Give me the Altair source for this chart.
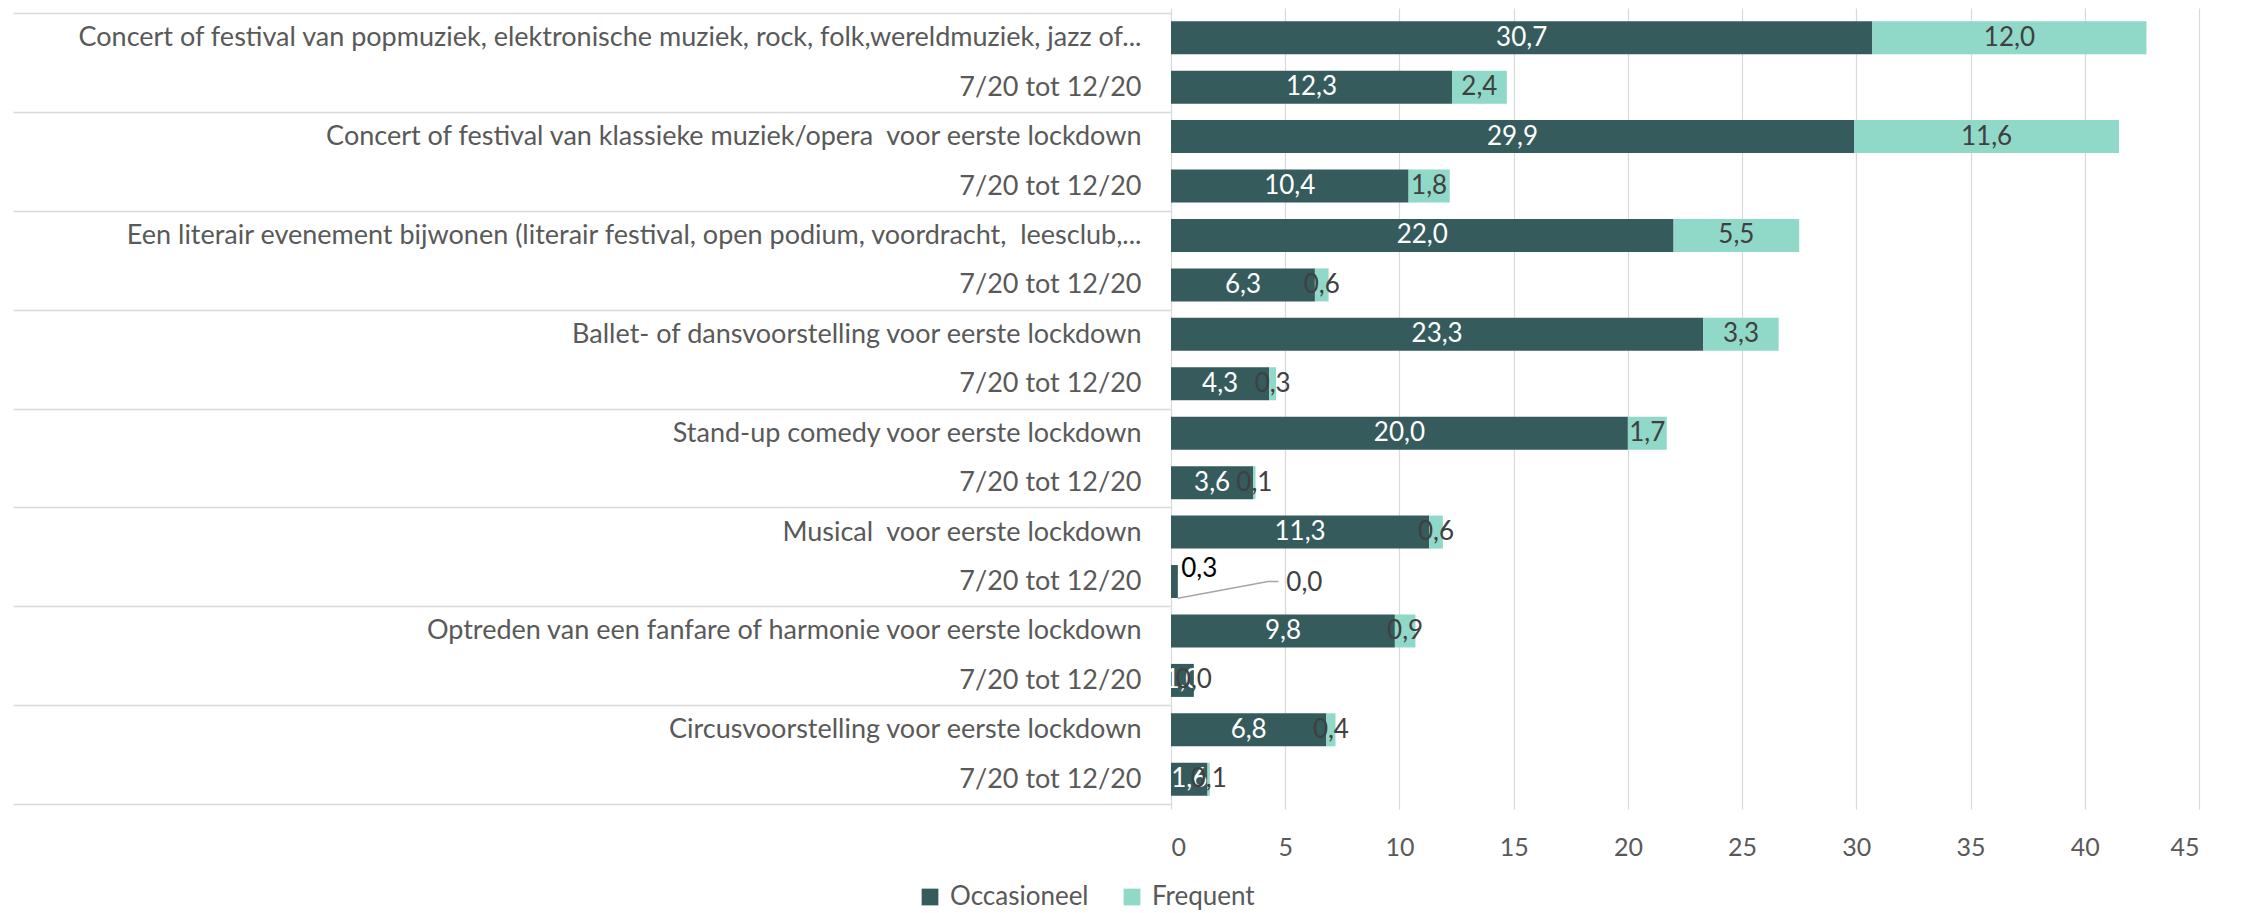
import json
import altair as alt
import pandas as pd

labels = [
    "Concert of festival van popmuziek, elektronische muziek, rock, folk,wereldmuziek, jazz of...",
    "7/20 tot 12/20",
    "Concert of festival van klassieke muziek/opera  voor eerste lockdown",
    "7/20 tot 12/20",
    "Een literair evenement bijwonen (literair festival, open podium, voordracht,  leesclub,...",
    "7/20 tot 12/20",
    "Ballet- of dansvoorstelling voor eerste lockdown",
    "7/20 tot 12/20",
    "Stand-up comedy voor eerste lockdown",
    "7/20 tot 12/20",
    "Musical  voor eerste lockdown",
    "7/20 tot 12/20",
    "Optreden van een fanfare of harmonie voor eerste lockdown",
    "7/20 tot 12/20",
    "Circusvoorstelling voor eerste lockdown",
    "7/20 tot 12/20",
]
occasioneel = [30.7, 12.3, 29.9, 10.4, 22.0, 6.3, 23.3, 4.3, 20.0, 3.6, 11.3, 0.3, 9.8, 1.0, 6.8, 1.6]
frequent = [12.0, 2.4, 11.6, 1.8, 5.5, 0.6, 3.3, 0.3, 1.7, 0.1, 0.6, 0.0, 0.9, 0.0, 0.4, 0.1]
series = ["Occasioneel", "Frequent"]
colors = ["#365B5D", "#90D8C8"]
x_ticks = [0, 5, 10, 15, 20, 25, 30, 35, 40, 45]

# row whose labels are placed outside the bar with a leader line (Musical 7/20)
special_row = 11
# leader line for that row, in data units
leader_x = [0.3, 4.25, 4.7]
leader_dy = [0.34, 0.0, 0.0]

FONT = "Lato"
GREY = "#595959"

rows = list(range(len(labels)))
boundaries = [r - 0.5 for r in range(0, len(labels) + 1, 2)]


def fmt(v):
    return f"{v:.1f}".replace(".", ",")


recs = []
for i in rows:
    o, f = occasioneel[i], frequent[i]
    recs.append(dict(row=i, serie=series[0], start=0.0, end=o, mid=o / 2, txt=fmt(o)))
    recs.append(dict(row=i, serie=series[1], start=o, end=o + f, mid=o + f / 2, txt=fmt(f)))
bars_df = pd.DataFrame(recs)
lab_df = bars_df[bars_df.row != special_row]

y_scale = alt.Scale(domain=[-0.5, 15.5], reverse=True, nice=False, zero=False)
x_scale = alt.Scale(domain=[0, 45], nice=False)

# keep double spaces visible in SVG
shown_labels = [s.replace("  ", " \u00a0") for s in labels]
label_expr = json.dumps(shown_labels) + "[datum.value]"

bars = alt.Chart(bars_df).mark_bar(size=33).encode(
    x=alt.X("start:Q", scale=x_scale, title=None,
            axis=alt.Axis(values=x_ticks, grid=True, gridColor="#d9d9d9", gridWidth=1.2,
                          domain=False, ticks=False, tickSize=0, labelFont=FONT,
                          labelFontSize=25, labelColor=GREY, labelPadding=26)),
    x2="end:Q",
    y=alt.Y("row:Q", scale=y_scale, title=None,
            axis=alt.Axis(orient="left", values=rows, labelExpr=label_expr, grid=False,
                          domain=False, ticks=False, tickSize=0, labelFont=FONT,
                          labelFontSize=27, labelColor=GREY, labelLimit=1500,
                          labelPadding=30)),
    color=alt.Color("serie:N", scale=alt.Scale(domain=series, range=colors),
                    legend=alt.Legend(title=None, orient="none", direction="horizontal",
                                      legendX=-254, legendY=876, symbolType="square",
                                      symbolSize=280, symbolStrokeWidth=0,
                                      labelFont=FONT, labelFontSize=26, labelColor=GREY,
                                      labelOffset=7, columnPadding=30)),
)

seps = alt.Chart(pd.DataFrame({"b": boundaries})).mark_rule(opacity=0).encode(
    y=alt.Y("b:Q", scale=y_scale, title=None,
            axis=alt.Axis(orient="left", values=boundaries, labels=False, domain=False,
                          grid=False, ticks=True, tickSize=1158, tickColor="#d9d9d9",
                          tickWidth=1.5)),
)

text_dark = alt.Chart(lab_df[lab_df.serie == series[0]]).mark_text(
    font=FONT, fontSize=26, color="white", baseline="middle", align="center"
).encode(x=alt.X("mid:Q", scale=x_scale), y=alt.Y("row:Q", scale=y_scale, axis=None),
         text="txt:N")

text_light = alt.Chart(lab_df[lab_df.serie == series[1]]).mark_text(
    font=FONT, fontSize=26, color="#404040", baseline="middle", align="center"
).encode(x=alt.X("mid:Q", scale=x_scale), y=alt.Y("row:Q", scale=y_scale, axis=None),
         text="txt:N")

leader_df = pd.DataFrame({
    "x": leader_x,
    "y": [special_row + d for d in leader_dy],
    "o": list(range(len(leader_x))),
})
leader = alt.Chart(leader_df).mark_line(color="#a6a6a6", strokeWidth=1.5).encode(
    x=alt.X("x:Q", scale=x_scale), y=alt.Y("y:Q", scale=y_scale, axis=None), order="o:Q"
)

out_df = pd.DataFrame({
    "x": [occasioneel[special_row] + 0.15, leader_x[-1] + 0.35],
    "y": [special_row - 0.26, special_row + 0.02],
    "txt": [fmt(occasioneel[special_row]), fmt(frequent[special_row])],
    "c": ["#000000", "#404040"],
})
out_text = alt.Chart(out_df).mark_text(
    font=FONT, fontSize=26, baseline="middle", align="left"
).encode(x=alt.X("x:Q", scale=x_scale), y=alt.Y("y:Q", scale=y_scale, axis=None),
         text="txt:N", color=alt.Color("c:N", scale=None))

chart = alt.layer(bars, seps, text_dark, text_light, leader, out_text).resolve_axis(
    y="independent"
).properties(
    width=1028, height=801,
    autosize=alt.AutoSizeParams(type="none"),
    padding={"left": 1163, "top": 0, "right": 30, "bottom": 104},
    background="white",
).configure_view(stroke=None)

chart.save("out.html", embed_options={"renderer": "svg", "actions": False})
